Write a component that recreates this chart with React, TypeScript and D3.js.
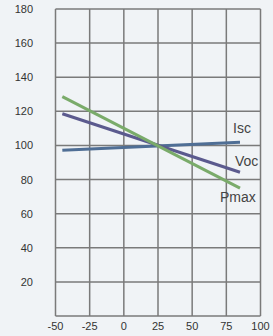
import * as d3 from "d3";

const xTicks = [-50, -25, 0, 25, 50, 75, 100];
const yTicks = [20, 40, 60, 80, 100, 120, 140, 160, 180];

const seriesNames = ["Isc", "Voc", "Pmax"];
const seriesTemps = [-45, 85];
const iscValues = [97.2, 101.9];
const vocValues = [118.6, 84.3];
const pmaxValues = [128.6, 75];
const seriesColors = ["#4f6e95", "#5b5a8e", "#7aab6a"];

const W = 273;
const H = 336;

export default function App() {
  const x = d3.scaleLinear().domain([-50, 100]).range([55.5, 260.5]);
  const y = d3.scaleLinear().domain([0, 180]).range([316, 9]);

  const line = d3
    .line<[number, number]>()
    .x((d) => x(d[0]))
    .y((d) => y(d[1]));

  const allValues = [iscValues, vocValues, pmaxValues];
  const labelPos = [
    { dx: -7, dy: -9 },
    { dx: -5, dy: -6 },
    { dx: -20, dy: 14 },
  ];

  return (
    <div style={{ position: "fixed", left: 0, top: 0, width: W, height: H, background: "#f0f3f6" }}>
      <svg width={W} height={H} style={{ display: "block", fontFamily: "Liberation Sans, Arial, sans-serif" }}>
        <rect x={0} y={0} width={W} height={H} fill="#f0f3f6" />
        <g stroke="#7a7a7a" strokeWidth={1.5}>
          {xTicks.map((t) => (
            <line key={"gx" + t} x1={x(t)} x2={x(t)} y1={y(180)} y2={y(0)} />
          ))}
          {[0, ...yTicks].map((t) => (
            <line key={"gy" + t} x1={x(-50)} x2={x(100)} y1={y(t)} y2={y(t)} />
          ))}
        </g>
        <g fontSize={11} fill="#333">
          {yTicks.map((t) => (
            <text key={"ty" + t} x={33} y={y(t) + 4} textAnchor="end">
              {t}
            </text>
          ))}
          {xTicks.map((t) => (
            <text key={"tx" + t} x={x(t)} y={330} textAnchor="middle">
              {t}
            </text>
          ))}
        </g>
        {allValues.map((vals, i) => (
          <path
            key={seriesNames[i]}
            d={line(seriesTemps.map((t, j) => [t, vals[j]] as [number, number])) || ""}
            fill="none"
            stroke={seriesColors[i]}
            strokeWidth={3}
          />
        ))}
        <g fontSize={14} fill="#444">
          {allValues.map((vals, i) => (
            <text
              key={"lbl" + i}
              x={x(seriesTemps[1]) + labelPos[i].dx}
              y={y(vals[1]) + labelPos[i].dy}
            >
              {seriesNames[i]}
            </text>
          ))}
        </g>
      </svg>
    </div>
  );
}
